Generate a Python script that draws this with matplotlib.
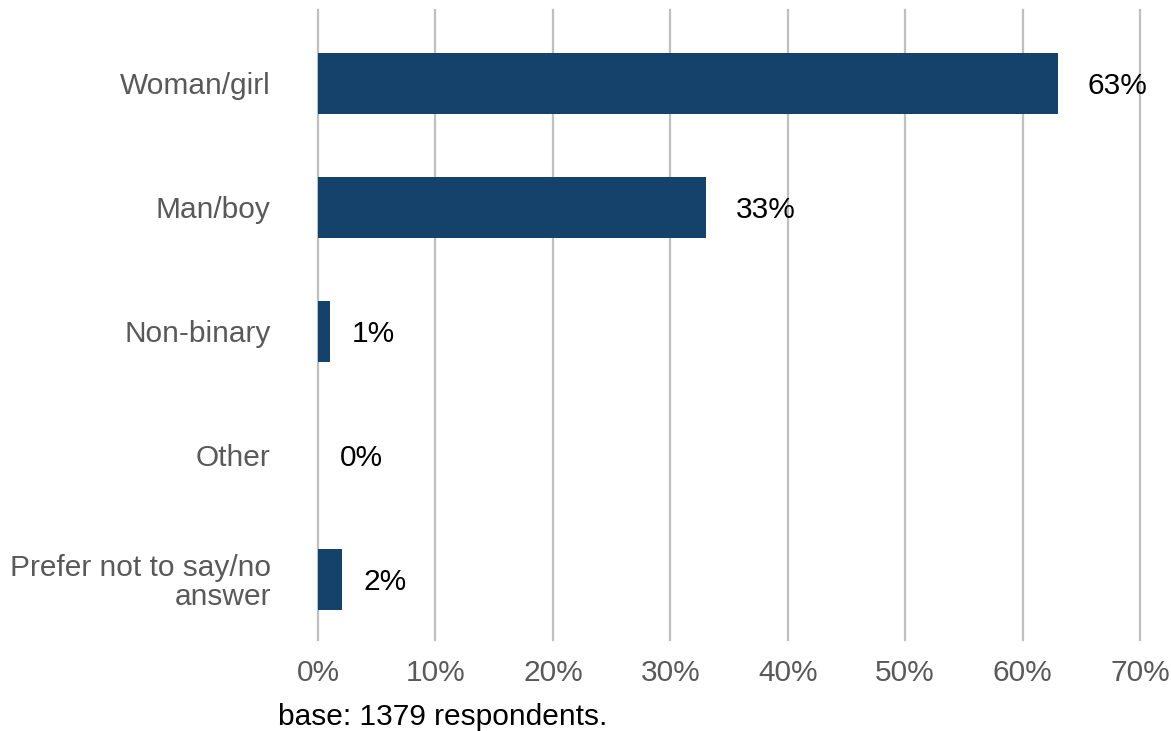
import matplotlib.pyplot as plt
from matplotlib.ticker import PercentFormatter

plt.rcParams['font.family'] = ['Liberation Sans', 'DejaVu Sans']

categories = ['Woman/girl', 'Man/boy', 'Non-binary', 'Other', 'Prefer not to say/no\nanswer']
values = [63, 33, 1, 0, 2]
xticks = [0, 10, 20, 30, 40, 50, 60, 70]
note = 'base: 1379 respondents.'

fs = 21.5

fig = plt.figure(figsize=(11.71, 7.31), dpi=100)
ax = fig.add_axes([0.2716, 0.1245, 0.7019, 0.8618])

ypos = list(range(len(categories)))
ax.barh(ypos, values, height=0.49, color='#15426b', zorder=3)

labels = []
for y, v in zip(ypos, values):
    t = ax.annotate(f'{v}%', (v, y), xytext=(0, -3), textcoords='offset pixels',
                    ha='left', va='center', fontsize=fs, color='black')
    labels.append(t)

ax.set_xlim(0, 70)
ax.set_ylim(4.49, -0.59)
ax.set_xticks(xticks)
ax.xaxis.set_major_formatter(PercentFormatter(decimals=0))
ax.set_yticks(ypos)
ax.set_yticklabels(categories)
ax.tick_params(axis='both', length=0, labelsize=fs, labelcolor='#595959')
ax.tick_params(axis='y', pad=34)
ax.tick_params(axis='x', pad=14)
for lbl in ax.get_yticklabels():
    lbl.set_multialignment('right')
    lbl.set_linespacing(1.05)

# vertical gridlines drawn unclipped so the edge ones keep full width
for t in xticks:
    ax.axvline(t, color='#bfbfbf', linewidth=1.6, zorder=0, clip_on=False)
for s in ax.spines.values():
    s.set_visible(False)

fig.text(278 / 1171, 1 - 717 / 731, note, fontsize=fs, color='black',
         ha='left', va='center')

# push each value label right by half its own width (hjust = -0.5)
fig.canvas.draw()
r = fig.canvas.get_renderer()
for t in labels:
    w = t.get_window_extent(r).width
    t.xyann = (w / 2, -3)

fig.savefig('out.png', dpi=100)
